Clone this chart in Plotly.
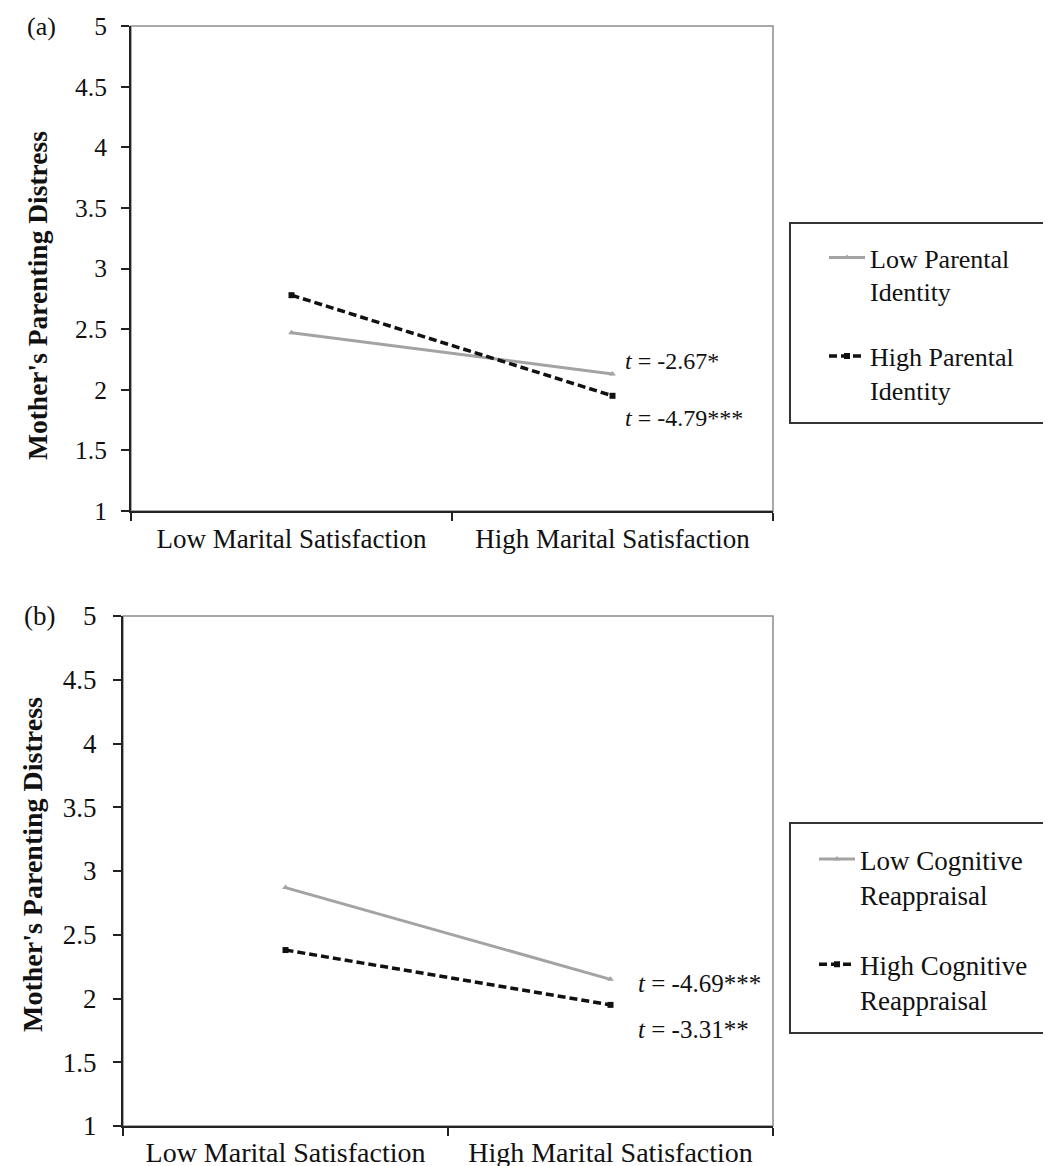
import plotly.graph_objects as go

W, H = 1051, 1166
FONT = "Liberation Serif"
TXT = "#111111"
AX = "#222222"

# ---------------- data ----------------
categories = ["Low Marital Satisfaction", "High Marital Satisfaction"]
y_tick_vals = [1, 1.5, 2, 2.5, 3, 3.5, 4, 4.5, 5]
y_tick_text = ["1", "1.5", "2", "2.5", "3", "3.5", "4", "4.5", "5"]
y_title = "Mother's Parenting Distress"

# Panel (a)
a_names = ["Low Parental<br>Identity", "High Parental<br>Identity"]
a_low_identity = [2.47, 2.13]
a_high_identity = [2.78, 1.95]
a_t_labels = ["<i>t</i> = -2.67*", "<i>t</i> = -4.79***"]
a_t_label_y = [2.24, 1.77]

# Panel (b)
b_names = ["Low Cognitive<br>Reappraisal", "High Cognitive<br>Reappraisal"]
b_low_reappraisal = [2.87, 2.15]
b_high_reappraisal = [2.38, 1.95]
b_t_labels = ["<i>t</i> = -4.69***", "<i>t</i> = -3.31**"]
b_t_label_y = [2.12, 1.76]


def px(p):
    return p / W


def py(p):
    return 1 - p / H


GRAY = "#a3a3a3"
BLACK = "#111111"

fig = go.Figure()

# panel (a) traces
fig.add_trace(go.Scatter(
    x=categories, y=a_low_identity, name=a_names[0], mode="lines+markers",
    line=dict(color=GRAY, width=3), marker=dict(symbol="triangle-up", size=6, color=GRAY),
    xaxis="x", yaxis="y", legend="legend", legendgroup="a1"))
fig.add_trace(go.Scatter(
    x=categories, y=a_high_identity, name=a_names[1], mode="lines+markers",
    line=dict(color=BLACK, width=3.5, dash="8px,4px"), marker=dict(symbol="square", size=6, color=BLACK),
    xaxis="x", yaxis="y", legend="legend", legendgroup="a2"))

# panel (b) traces
fig.add_trace(go.Scatter(
    x=categories, y=b_low_reappraisal, name=b_names[0], mode="lines+markers",
    line=dict(color=GRAY, width=3), marker=dict(symbol="triangle-up", size=6, color=GRAY),
    xaxis="x2", yaxis="y2", legend="legend2", legendgroup="b1"))
fig.add_trace(go.Scatter(
    x=categories, y=b_high_reappraisal, name=b_names[1], mode="lines+markers",
    line=dict(color=BLACK, width=3.5, dash="8px,4px"), marker=dict(symbol="square", size=6, color=BLACK),
    xaxis="x2", yaxis="y2", legend="legend2", legendgroup="b2"))


def xaxis_cfg(domain, anchor, size, standoff):
    return dict(
        domain=domain, anchor=anchor, type="category",
        categoryorder="array", categoryarray=categories, range=[-0.5, 1.5],
        showline=True, linecolor=AX, linewidth=2, ticks="outside", tickson="boundaries",
        ticklen=8, tickwidth=1.5, tickcolor=AX, ticklabelstandoff=standoff,
        tickfont=dict(family=FONT, size=size, color=TXT),
        showgrid=False, zeroline=False, automargin=False, fixedrange=True)


def yaxis_cfg(domain, anchor, size, standoff):
    return dict(
        domain=domain, anchor=anchor, range=[1, 5],
        tickvals=y_tick_vals, ticktext=y_tick_text,
        showline=True, linecolor=AX, linewidth=2, ticks="outside",
        ticklen=8, tickwidth=1.5, tickcolor=AX, ticklabelstandoff=standoff,
        tickfont=dict(family=FONT, size=size, color=TXT),
        showgrid=False, zeroline=False, automargin=False, fixedrange=True)


a_left, a_right, a_top, a_bot = 123, 765, 18, 503
b_left, b_right, b_top, b_bot = 115, 765, 608, 1118

annotations = [
    dict(text="(a)", x=px(17), y=py(18), xref="paper", yref="paper", xanchor="left",
         yanchor="middle", showarrow=False, font=dict(family=FONT, size=26, color=TXT)),
    dict(text="(b)", x=px(14), y=py(608), xref="paper", yref="paper", xanchor="left",
         yanchor="middle", showarrow=False, font=dict(family=FONT, size=27, color=TXT)),
    dict(text="<b>" + y_title + "</b>", x=px(30), y=py(288), xref="paper",
         yref="paper", xanchor="center", yanchor="middle", textangle=-90, showarrow=False,
         font=dict(family=FONT, size=27.5, color=TXT)),
    dict(text="<b>" + y_title + "</b>", x=px(24), y=py(857), xref="paper",
         yref="paper", xanchor="center", yanchor="middle", textangle=-90, showarrow=False,
         font=dict(family=FONT, size=28, color=TXT)),
]
for lab, yy in zip(a_t_labels, a_t_label_y):
    annotations.append(dict(text=lab, x=categories[1], y=yy, xref="x", yref="y", xanchor="left",
                            yanchor="middle", xshift=10, showarrow=False,
                            font=dict(family=FONT, size=24, color=TXT)))
for lab, yy in zip(b_t_labels, b_t_label_y):
    annotations.append(dict(text=lab, x=categories[1], y=yy, xref="x2", yref="y2", xanchor="left",
                            yanchor="middle", xshift=25, showarrow=False,
                            font=dict(family=FONT, size=25, color=TXT)))

shapes = [
    # light frame (top/right) around each plot
    dict(type="rect", xref="x domain", yref="y domain", x0=0, x1=1, y0=0, y1=1,
         line=dict(color="#8c8c8c", width=1.5), layer="below"),
    dict(type="rect", xref="x2 domain", yref="y2 domain", x0=0, x1=1, y0=0, y1=1,
         line=dict(color="#8c8c8c", width=1.5), layer="below"),
    # legend boxes
    dict(type="rect", xref="paper", yref="paper", x0=px(782), x1=px(1047), y0=py(415), y1=py(215),
         line=dict(color="#333333", width=2), layer="below"),
    dict(type="rect", xref="paper", yref="paper", x0=px(782), x1=1.05, y0=py(1025), y1=py(815),
         line=dict(color="#333333", width=2), layer="below"),
]

fig.update_layout(
    width=W, height=H, autosize=False,
    margin=dict(l=0, r=0, t=0, b=0),
    paper_bgcolor="white", plot_bgcolor="white",
    xaxis=xaxis_cfg([px(a_left), px(a_right)], "y", 27, 3),
    yaxis=yaxis_cfg([py(a_bot), py(a_top)], "x", 25.5, 9),
    xaxis2=xaxis_cfg([px(b_left), px(b_right)], "y2", 28, 0),
    yaxis2=yaxis_cfg([py(b_bot), py(b_top)], "x2", 27, 11),
    legend=dict(x=px(816), y=py(226), xanchor="left", yanchor="top", bgcolor="rgba(0,0,0,0)",
                borderwidth=0, font=dict(family=FONT, size=26, color=TXT), valign="top",
                traceorder="grouped", tracegroupgap=28, itemwidth=36),
    legend2=dict(x=px(806), y=py(827), xanchor="left", yanchor="top", bgcolor="rgba(0,0,0,0)",
                 borderwidth=0, font=dict(family=FONT, size=27, color=TXT), valign="top",
                 traceorder="grouped", tracegroupgap=32, itemwidth=36),
    showlegend=True,
    annotations=annotations,
    shapes=shapes,
)

fig.write_html("out.html")
